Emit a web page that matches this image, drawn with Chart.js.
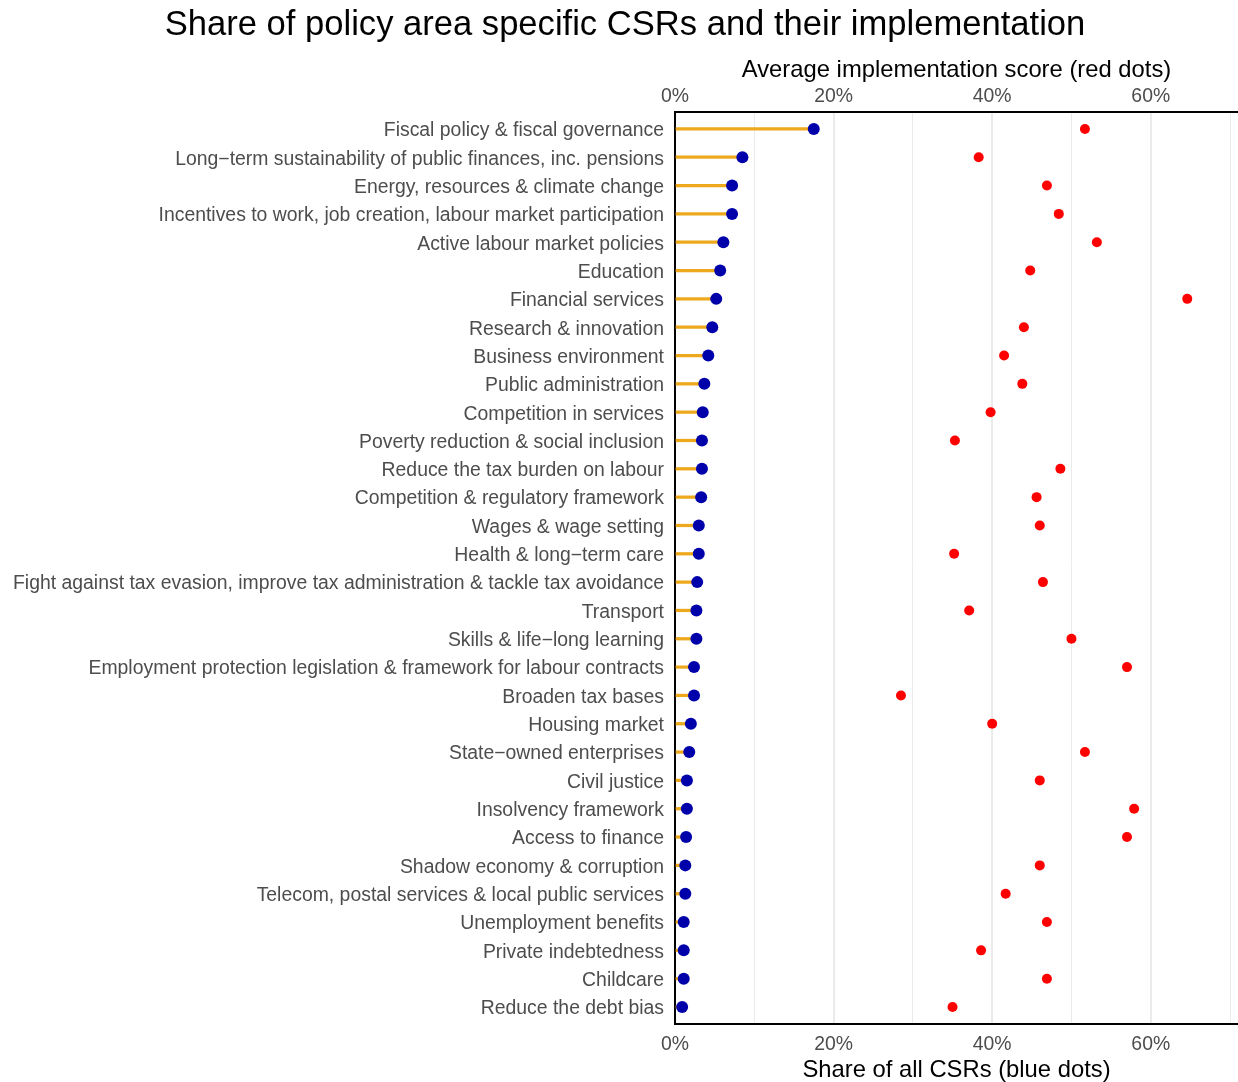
<!DOCTYPE html>
<html>
<head>
<meta charset="utf-8">
<script src="https://cdn.jsdelivr.net/npm/chart.js@4/dist/chart.umd.min.js"></script>
<style>
html,body{margin:0;padding:0;background:#fff;}
#c{display:block;}
</style>
</head>
<body>
<canvas id="c" width="1238" height="1082"></canvas>
<script>
const categories = [
  "Fiscal policy & fiscal governance",
  "Long\u2212term sustainability of public finances, inc. pensions",
  "Energy, resources & climate change",
  "Incentives to work, job creation, labour market participation",
  "Active labour market policies",
  "Education",
  "Financial services",
  "Research & innovation",
  "Business environment",
  "Public administration",
  "Competition in services",
  "Poverty reduction & social inclusion",
  "Reduce the tax burden on labour",
  "Competition & regulatory framework",
  "Wages & wage setting",
  "Health & long\u2212term care",
  "Fight against tax evasion, improve tax administration & tackle tax avoidance",
  "Transport",
  "Skills & life\u2212long learning",
  "Employment protection legislation & framework for labour contracts",
  "Broaden tax bases",
  "Housing market",
  "State\u2212owned enterprises",
  "Civil justice",
  "Insolvency framework",
  "Access to finance",
  "Shadow economy & corruption",
  "Telecom, postal services & local public services",
  "Unemployment benefits",
  "Private indebtedness",
  "Childcare",
  "Reduce the debt bias"
];
// Share of all CSRs (blue dots), in %
const shareValues = [17.5, 8.5, 7.2, 7.2, 6.1, 5.7, 5.2, 4.7, 4.2, 3.7, 3.5, 3.4, 3.4, 3.3, 3.0, 3.0,
  2.8, 2.7, 2.7, 2.4, 2.4, 2.0, 1.8, 1.5, 1.5, 1.4, 1.3, 1.3, 1.1, 1.1, 1.1, 0.9];
// Average implementation score (red dots), in %
const implValues = [51.7, 38.3, 46.9, 48.4, 53.2, 44.8, 64.6, 44.0, 41.5, 43.8, 39.8, 35.3, 48.6, 45.6, 46.0, 35.2,
  46.4, 37.1, 50.0, 57.0, 28.5, 40.0, 51.7, 46.0, 57.9, 57.0, 46.0, 41.7, 46.9, 38.6, 46.9, 35.0];
const tickLabels = [0, 20, 40, 60];
const axisMin = 0, axisMax = 71, gridStep = 10;

const FONT = "'Liberation Sans', Arial, Helvetica, sans-serif";
const tickCb = v => tickLabels.includes(v) ? v + '%' : '';
const toPoints = arr => arr.map((v, i) => ({ x: v, y: i }));
const zeroPad = s => { s.paddingLeft = 0; s.paddingRight = 0; s.paddingTop = 0; s.paddingBottom = 0; };

new Chart(document.getElementById('c'), {
  type: 'bar',
  data: {
    datasets: [
      { type: 'bar', indexAxis: 'y', data: toPoints(shareValues), xAxisID: 'x', yAxisID: 'y',
        backgroundColor: '#EEA81C', barThickness: 2.6, order: 3 },
      { type: 'line', indexAxis: 'y', data: toPoints(shareValues), xAxisID: 'x', yAxisID: 'y',
        showLine: false, pointRadius: 6, pointBackgroundColor: '#0000AA', pointBorderWidth: 0,
        borderColor: '#0000AA', order: 2 },
      { type: 'line', indexAxis: 'y', data: toPoints(implValues), xAxisID: 'x2', yAxisID: 'y',
        showLine: false, pointRadius: 5, pointBackgroundColor: '#FF0000', pointBorderWidth: 0,
        borderColor: '#FF0000', order: 1 }
    ]
  },
  options: {
    indexAxis: 'y',
    responsive: false,
    animation: false,
    devicePixelRatio: 1,
    layout: { autoPadding: false, padding: { left: 12, right: 0, top: 0, bottom: 0 } },
    plugins: {
      legend: { display: false },
      tooltip: { enabled: false },
      title: {
        display: true,
        text: 'Share of policy area specific CSRs and their implementation',
        color: '#000',
        font: { family: FONT, size: 34.6, weight: 'normal' },
        padding: { top: 5, bottom: 6 }
      }
    },
    scales: {
      y: {
        type: 'linear',
        reverse: true,
        offset: false,
        min: -0.6,
        max: categories.length - 1 + 0.6,
        grid: { display: false, drawTicks: false, offset: false },
        border: { display: true, color: '#000', width: 2 },
        ticks: { stepSize: 1, includeBounds: false, maxTicksLimit: 200, autoSkip: false,
                 callback: v => categories[v] !== undefined ? categories[v] : '',
                 color: '#4d4d4d', font: { family: FONT, size: 19.4 }, padding: 11, labelOffset: 2 },
        afterFit: s => { s.width = 663; zeroPad(s); }
      },
      x: {
        type: 'linear', position: 'bottom', min: axisMin, max: axisMax,
        grid: { color: '#ebebeb', drawTicks: false,
                lineWidth: ctx => (ctx.tick && ctx.tick.value % 20 === 0) ? 2 : 1 },
        border: { display: true, color: '#000', width: 2 },
        ticks: { stepSize: gridStep, includeBounds: false, callback: tickCb, color: '#4d4d4d',
                 font: { family: FONT, size: 19.4 }, padding: 9, maxRotation: 0, autoSkip: false },
        title: { display: true, text: 'Share of all CSRs (blue dots)', color: '#000',
                 font: { family: FONT, size: 23.8 }, padding: { top: 2, bottom: -3 } },
        afterFit: s => { s.height = 58; zeroPad(s); }
      },
      x2: {
        type: 'linear', position: 'top', min: axisMin, max: axisMax,
        grid: { display: false, drawTicks: false },
        border: { display: true, color: '#000', width: 2 },
        ticks: { stepSize: gridStep, includeBounds: false, callback: tickCb, color: '#4d4d4d',
                 font: { family: FONT, size: 19.4 }, padding: 4, maxRotation: 0, autoSkip: false },
        title: { display: true, text: 'Average implementation score (red dots)', color: '#000',
                 font: { family: FONT, size: 23.8 }, padding: { top: 4, bottom: 0 } },
        afterFit: s => { s.height = 59.4; zeroPad(s); }
      }
    }
  }
});
</script>
</body>
</html>
